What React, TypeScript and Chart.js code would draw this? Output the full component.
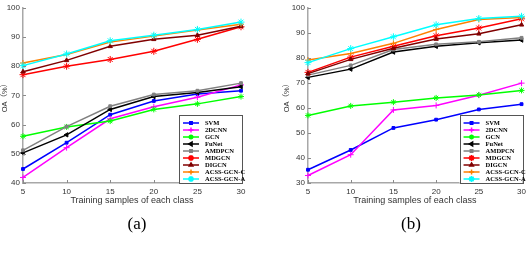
import React, { useEffect, useRef } from 'react';
import { Chart, registerables } from 'chart.js';
import { drawPoint } from 'chart.js/helpers';

Chart.register(...registerables);

const xValues = [5, 10, 15, 20, 25, 30];
const methods = ['SVM', '2DCNN', 'GCN', 'FuNet', 'AMDPCN', 'MDGCN', 'DIGCN', 'ACSS-GCN-C', 'ACSS-GCN-A'];
const colors = ['#0000ff', '#ff00ff', '#00ff00', '#000000', '#808080', '#ff0000', '#800000', '#ff8000', '#00ffff'];
const pointStyles = ['rect', 'cross', 'star', 'triangle', 'rect', 'star', 'triangle', 'cross', 'star'];
const pointRotations = [0, 0, 0, -90, 0, 0, 0, 0, 0];
const pointRadii = [2, 3, 3, 2.5, 2, 3.5, 2.5, 3, 3.5];

// (a)
const svmA = [44.8, 53.8, 63.4, 68.1, 70.5, 71.6];
const cnnA = [41.9, 52.1, 62.0, 66.1, 69.4, 73.6];
const gcnA = [56.0, 59.2, 61.2, 65.2, 67.1, 69.6];
const funetA = [50.3, 56.5, 65.2, 69.6, 71.0, 73.0];
const amdpcnA = [51.2, 59.3, 66.3, 70.3, 71.6, 74.2];
const mdgcnA = [77.1, 80.0, 82.3, 85.1, 89.2, 93.5];
const digcnA = [78.1, 82.0, 86.8, 89.2, 90.6, 93.7];
const acssCA = [81.1, 84.0, 88.3, 90.3, 92.4, 94.4];
const acssAA = [80.2, 84.2, 88.7, 90.6, 92.6, 95.1];

// (b)
const svmB = [35.3, 43.2, 52.0, 55.3, 59.4, 61.5];
const cnnB = [33.0, 41.3, 59.2, 61.0, 65.1, 69.9];
const gcnB = [57.0, 60.8, 62.3, 64.0, 65.2, 67.0];
const funetB = [72.2, 75.5, 82.3, 84.6, 86.0, 87.1];
const amdpcnB = [73.1, 77.0, 83.3, 85.4, 86.4, 88.0];
const mdgcnB = [74.2, 80.3, 84.6, 88.8, 91.9, 95.6];
const digcnB = [73.7, 79.4, 83.8, 87.5, 89.6, 93.2];
const acssCB = [79.1, 81.7, 85.8, 91.3, 95.3, 96.1];
const acssAB = [78.1, 83.7, 88.4, 93.2, 95.7, 96.6];

const seriesA = [svmA, cnnA, gcnA, funetA, amdpcnA, mdgcnA, digcnA, acssCA, acssAA];
const seriesB = [svmB, cnnB, gcnB, funetB, amdpcnB, mdgcnB, digcnB, acssCB, acssAB];

const yTitle = 'OA（%）';
const xTitle = 'Training samples of each class';

type Cfg = {
  series: number[][];
  yMin: number;
  yMax: number;
  areaLeft: number;
  padRight: number;
  titleX: number;
};

function makeDecor(cfg: Cfg) {
  return {
    id: 'decor',
    afterDraw(chart: any) {
      const ctx = chart.ctx as CanvasRenderingContext2D;
      const a = chart.chartArea;
      const xs = chart.scales.x;
      const ys = chart.scales.y;
      ctx.save();
      // inward ticks
      ctx.strokeStyle = '#8a8a8a';
      ctx.lineWidth = 1;
      ys.ticks.forEach((t: any) => {
        const y = Math.round(ys.getPixelForValue(t.value)) + 0.5;
        ctx.beginPath();
        ctx.moveTo(a.left, y);
        ctx.lineTo(a.left + 3, y);
        ctx.stroke();
      });
      xs.ticks.forEach((t: any) => {
        const x = Math.round(xs.getPixelForValue(t.value)) + 0.5;
        ctx.beginPath();
        ctx.moveTo(x, a.bottom);
        ctx.lineTo(x, a.bottom - 3);
        ctx.stroke();
      });
      // titles
      ctx.fillStyle = '#333';
      ctx.font = '9px "Liberation Sans", Arial, sans-serif';
      ctx.textAlign = 'center';
      ctx.textBaseline = 'middle';
      ctx.fillText(xTitle, (a.left + a.right) / 2, 201);
      ctx.save();
      ctx.translate(cfg.titleX, 96);
      ctx.rotate(-Math.PI / 2);
      ctx.font = '7.5px "Liberation Sans", "Noto Sans CJK SC", sans-serif';
      ctx.fillText(yTitle, 0, 0);
      ctx.restore();
      // legend
      const w = 63;
      const h = 68;
      const left = a.right - 62;
      const top = a.bottom - h;
      ctx.fillStyle = '#ffffff';
      ctx.fillRect(left, top, w, h);
      ctx.strokeStyle = '#555';
      ctx.lineWidth = 1;
      ctx.strokeRect(Math.round(left) + 0.5, Math.round(top) + 0.5, w, h);
      ctx.font = 'bold 6.5px "Liberation Serif", "Times New Roman", serif';
      ctx.textAlign = 'left';
      ctx.textBaseline = 'middle';
      methods.forEach((m, i) => {
        const y = top + 8 + i * 7;
        ctx.strokeStyle = colors[i];
        ctx.lineWidth = 1.5;
        ctx.beginPath();
        ctx.moveTo(left + 4, y);
        ctx.lineTo(left + 20, y);
        ctx.stroke();
        ctx.fillStyle = colors[i];
        drawPoint(ctx, {
          pointStyle: pointStyles[i],
          radius: pointRadii[i] * 0.85,
          rotation: pointRotations[i],
          borderWidth: 1,
        } as any, left + 12, y);
        ctx.fillStyle = '#000';
        ctx.fillText(m, left + 26, y + 0.5);
      });
      ctx.restore();
    },
  };
}

function makeConfig(cfg: Cfg): any {
  const n = methods.length;
  return {
    type: 'line',
    data: {
      datasets: cfg.series.map((vals, i) => ({
        label: methods[i],
        data: xValues.map((x, j) => ({ x, y: vals[j] })),
        borderColor: colors[i],
        backgroundColor: colors[i],
        pointBackgroundColor: colors[i],
        pointBorderColor: colors[i],
        pointStyle: pointStyles[i],
        rotation: pointRotations[i],
        pointRadius: pointRadii[i],
        pointBorderWidth: 1,
        borderWidth: 1.5,
        tension: 0,
        fill: false,
        clip: 8,
        order: n - i,
      })),
    },
    options: {
      animation: false,
      responsive: false,
      maintainAspectRatio: false,
      events: [],
      layout: { padding: { left: 0, top: 4, right: cfg.padRight, bottom: 0 } },
      plugins: { legend: { display: false }, tooltip: { enabled: false } },
      scales: {
        x: {
          type: 'linear',
          min: 5,
          max: 30,
          grid: { display: false, drawTicks: false },
          border: { display: true, color: '#a8a8a8', width: 1.5 },
          ticks: {
            stepSize: 5,
            padding: 4,
            color: '#333',
            font: { family: '"Liberation Sans", Arial, sans-serif', size: 8 },
          },
          afterFit: (s: any) => {
            s.height = 268 - 4 - 179;
          },
        },
        y: {
          type: 'linear',
          min: cfg.yMin,
          max: cfg.yMax,
          grid: { display: false, drawTicks: false },
          border: { display: true, color: '#a8a8a8', width: 1.5 },
          ticks: {
            stepSize: 10,
            padding: 3,
            color: '#333',
            font: { family: '"Liberation Sans", Arial, sans-serif', size: 8 },
          },
          afterFit: (s: any) => {
            s.width = cfg.areaLeft;
          },
        },
      },
    },
    plugins: [makeDecor(cfg)],
  };
}

function LineChart({ cfg, left }: { cfg: Cfg; left: number }) {
  const ref = useRef<HTMLCanvasElement | null>(null);
  useEffect(() => {
    if (!ref.current) return;
    const chart = new Chart(ref.current, makeConfig(cfg));
    return () => chart.destroy();
  }, []);
  return (
    <canvas
      ref={ref}
      width={265}
      height={268}
      style={{ position: 'absolute', left, top: 0, width: 265, height: 268 }}
    />
  );
}

const cfgA: Cfg = { series: seriesA, yMin: 40, yMax: 100, areaLeft: 23, padRight: 24, titleX: 5 };
const cfgB: Cfg = { series: seriesB, yMin: 30, yMax: 100, areaLeft: 43, padRight: 6, titleX: 22 };

export default function App() {
  const cap: React.CSSProperties = {
    position: 'absolute',
    top: 212,
    width: 60,
    textAlign: 'center',
    fontFamily: '"Liberation Serif", "Times New Roman", serif',
    fontSize: 17,
    lineHeight: '24px',
    color: '#000',
  };
  return (
    <div style={{ position: 'absolute', left: 0, top: 0, width: 530, height: 268, background: '#fff', overflow: 'hidden' }}>
      <LineChart cfg={cfgA} left={0} />
      <LineChart cfg={cfgB} left={265} />
      <div style={{ ...cap, left: 137 - 30 }}>(a)</div>
      <div style={{ ...cap, left: 411 - 30 }}>(b)</div>
    </div>
  );
}
